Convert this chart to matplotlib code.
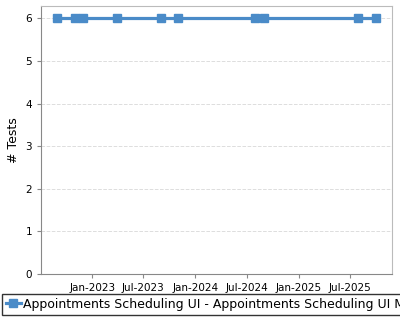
import matplotlib
matplotlib.use('Agg')
import matplotlib.pyplot as plt
import matplotlib.dates as mdates
import datetime as dt

# run dates and test counts
dates = ['2022-08-30', '2022-11-02', '2022-11-30', '2023-03-30', '2023-09-02',
         '2023-11-01', '2024-08-01', '2024-09-02', '2025-08-01', '2025-10-02']
tests = [6, 6, 6, 6, 6, 6, 6, 6, 6, 6]
series_name = 'Appointments Scheduling UI - Appointments Scheduling UI Module Tests'

x = [dt.datetime.strptime(d, '%Y-%m-%d') for d in dates]
blue = '#4a8bc8'

fig = plt.figure(figsize=(4, 3.2), dpi=100)
ax = fig.add_axes([0.1025, 0.14375, 0.8775, 0.8375])

ax.plot(x, tests, color=blue, lw=2.3, marker='s', ms=5.3, label=series_name)

ax.set_ylim(0, 6.29)
ax.set_xlim(dt.datetime(2022, 7, 3), dt.datetime(2025, 11, 28))
ax.set_yticks(range(0, 7))
ax.xaxis.set_major_locator(mdates.MonthLocator(bymonth=[1, 7]))
ax.xaxis.set_major_formatter(mdates.DateFormatter('%b-%Y'))
ax.tick_params(labelsize=7.5, length=3, color='#888888')
ax.set_ylabel('# Tests', fontsize=9)
ax.yaxis.grid(True, ls='--', color='#dddddd', lw=0.7)

for s in ['left', 'bottom']:
    ax.spines[s].set_color('#888888')
for s in ['top', 'right']:
    ax.spines[s].set_color('#bbbbbb')

fig.legend(loc='upper left', bbox_to_anchor=(0.005, 1 - 294 / 320),
           fontsize=9, frameon=True, fancybox=False, edgecolor='black',
           handlelength=1.2, handletextpad=0.15, borderpad=0.3,
           borderaxespad=0)

fig.savefig('out.png', dpi=100)
